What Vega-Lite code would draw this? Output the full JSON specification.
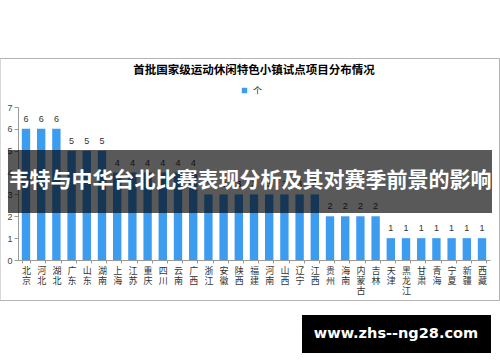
{
  "$schema": "https://vega.github.io/schema/vega-lite/v6.json",
  "width": 472,
  "height": 153,
  "autosize": {"type": "none"},
  "padding": {"left": 18, "top": 107, "right": 10, "bottom": 102},
  "background": "white",
  "title": {
    "text": "首批国家级运动休闲特色小镇试点项目分布情况",
    "font": "Noto Sans CJK SC",
    "fontSize": 11.5,
    "fontWeight": "bold",
    "color": "#000000",
    "anchor": "middle",
    "offset": -19
  },
  "config": {"view": {"stroke": null}, "font": "Noto Sans CJK SC"},
  "datasets": {
    "towns": [
      {"province": "北京", "count": 6},
      {"province": "河北", "count": 6},
      {"province": "湖北", "count": 6},
      {"province": "广东", "count": 5},
      {"province": "山东", "count": 5},
      {"province": "湖南", "count": 5},
      {"province": "上海", "count": 4},
      {"province": "江苏", "count": 4},
      {"province": "重庆", "count": 4},
      {"province": "四川", "count": 4},
      {"province": "云南", "count": 4},
      {"province": "广西", "count": 4},
      {"province": "浙江", "count": 3},
      {"province": "安徽", "count": 3},
      {"province": "陕西", "count": 3},
      {"province": "福建", "count": 3},
      {"province": "河南", "count": 3},
      {"province": "山西", "count": 3},
      {"province": "辽宁", "count": 3},
      {"province": "江西", "count": 3},
      {"province": "贵州", "count": 2},
      {"province": "海南", "count": 2},
      {"province": "内蒙古", "count": 2},
      {"province": "吉林", "count": 2},
      {"province": "天津", "count": 1},
      {"province": "黑龙江", "count": 1},
      {"province": "甘肃", "count": 1},
      {"province": "青海", "count": 1},
      {"province": "宁夏", "count": 1},
      {"province": "新疆", "count": 1},
      {"province": "西藏", "count": 1}
    ],
    "one": [{}]
  },
  "data": {"name": "towns"},
  "resolve": {"scale": {"x": "independent", "y": "independent"}},
  "layer": [
    {
      "data": {"name": "one"},
      "mark": {"type": "rect", "fillOpacity": 0, "stroke": "#b4b4b4", "strokeWidth": 1},
      "encoding": {
        "x": {"datum": -0.0381, "type": "quantitative", "scale": {"domain": [0, 1], "nice": false, "zero": false}, "axis": null},
        "x2": {"datum": 1.0201},
        "y": {"datum": 9.219, "type": "quantitative", "scale": {"domain": [0, 7], "nice": false, "zero": false}, "axis": null},
        "y2": {"datum": -1.853}
      }
    },
    {
      "layer": [
        {
          "mark": {"type": "bar"},
          "encoding": {
            "x": {
              "field": "province",
              "type": "nominal",
              "sort": null,
              "scale": {"paddingInner": 0.45, "paddingOuter": 0.25},
              "axis": {
                "title": null,
                "labelAngle": 0,
                "labelExpr": "split(datum.label, '')",
                "labelFontSize": 9,
                "labelLineHeight": 10,
                "labelColor": "#333333",
                "labelBaseline": "top",
                "labelPadding": 3,
                "labelFont": "Noto Sans CJK SC",
                "domainColor": "#9a9a9a",
                "tickColor": "#9a9a9a",
                "tickSize": 3,
                "tickBand": "extent",
                "labelOverlap": false
              }
            },
            "y": {
              "field": "count",
              "type": "quantitative",
              "scale": {"domain": [0, 7], "nice": false},
              "axis": {
                "title": null,
                "values": [0, 1, 2, 3, 4, 5, 6, 7],
                "tickCount": 8,
                "grid": false,
                "labelOverlap": false,
                "labelFontSize": 9,
                "labelColor": "#444444",
                "labelFont": "Liberation Sans",
                "labelPadding": 2,
                "domainColor": "#9a9a9a",
                "tickColor": "#9a9a9a",
                "tickSize": 4
              }
            },
            "color": {
              "datum": "个",
              "type": "nominal",
              "scale": {"range": ["#3c9cf0"]},
              "legend": {
                "orient": "none",
                "legendX": 222,
                "legendY": -21,
                "title": null,
                "symbolType": "square",
                "symbolSize": 30,
                "labelFontSize": 9,
                "labelFont": "Noto Sans CJK SC",
                "labelColor": "#222222",
                "padding": 0
              }
            }
          }
        },
        {
          "mark": {"type": "text", "baseline": "bottom", "dy": -5, "fontSize": 9, "font": "Liberation Sans", "color": "#333333"},
          "encoding": {
            "x": {
              "field": "province",
              "type": "nominal",
              "sort": null,
              "axis": {
                "title": null,
                "labelAngle": 0,
                "labelExpr": "split(datum.label, '')",
                "labelFontSize": 9,
                "labelLineHeight": 10,
                "labelColor": "#333333",
                "labelBaseline": "top",
                "labelPadding": 3,
                "labelFont": "Noto Sans CJK SC",
                "domainColor": "#9a9a9a",
                "tickColor": "#9a9a9a",
                "tickSize": 3,
                "tickBand": "extent",
                "labelOverlap": false
              }
            },
            "y": {
              "field": "count",
              "type": "quantitative",
              "axis": {
                "title": null,
                "values": [0, 1, 2, 3, 4, 5, 6, 7],
                "tickCount": 8,
                "grid": false,
                "labelOverlap": false,
                "labelFontSize": 9,
                "labelColor": "#444444",
                "labelFont": "Liberation Sans",
                "labelPadding": 2,
                "domainColor": "#9a9a9a",
                "tickColor": "#9a9a9a",
                "tickSize": 4
              }
            },
            "text": {"field": "count", "type": "quantitative"}
          }
        }
      ]
    },
    {
      "data": {"name": "one"},
      "mark": {"type": "rect", "fill": "#000000", "fillOpacity": 0.65},
      "encoding": {
        "x": {"datum": -0.0212, "type": "quantitative", "scale": {"domain": [0, 1], "nice": false, "zero": false}, "axis": null},
        "x2": {"datum": 1.0042},
        "y": {"datum": 5.033, "type": "quantitative", "scale": {"domain": [0, 7], "nice": false, "zero": false}, "axis": null},
        "y2": {"datum": 2.15}
      }
    },
    {
      "data": {"name": "one"},
      "mark": {"type": "text", "text": "韦特与中华台北比赛表现分析及其对赛季前景的影响", "font": "Noto Sans CJK SC", "fontWeight": "bold", "fontSize": 21, "color": "#ffffff", "align": "center", "baseline": "middle"},
      "encoding": {
        "x": {"datum": 0.4915, "type": "quantitative", "scale": {"domain": [0, 1], "nice": false, "zero": false}, "axis": null},
        "y": {"datum": 3.614, "type": "quantitative", "scale": {"domain": [0, 7], "nice": false, "zero": false}, "axis": null}
      }
    },
    {
      "data": {"name": "one"},
      "mark": {"type": "rect", "fill": "#000000"},
      "encoding": {
        "x": {"datum": 0.6017, "type": "quantitative", "scale": {"domain": [0, 1], "nice": false, "zero": false}, "axis": null},
        "x2": {"datum": 1.0021},
        "y": {"datum": -2.516, "type": "quantitative", "scale": {"domain": [0, 7], "nice": false, "zero": false}, "axis": null},
        "y2": {"datum": -4.255}
      }
    },
    {
      "data": {"name": "one"},
      "mark": {"type": "text", "text": "www.zhs--ng28.com", "font": "DejaVu Sans", "fontWeight": "bold", "fontSize": 14.5, "color": "#ffffff", "align": "center", "baseline": "middle"},
      "encoding": {
        "x": {"datum": 0.8008, "type": "quantitative", "scale": {"domain": [0, 1], "nice": false, "zero": false}, "axis": null},
        "y": {"datum": -3.386, "type": "quantitative", "scale": {"domain": [0, 7], "nice": false, "zero": false}, "axis": null}
      }
    }
  ]
}
